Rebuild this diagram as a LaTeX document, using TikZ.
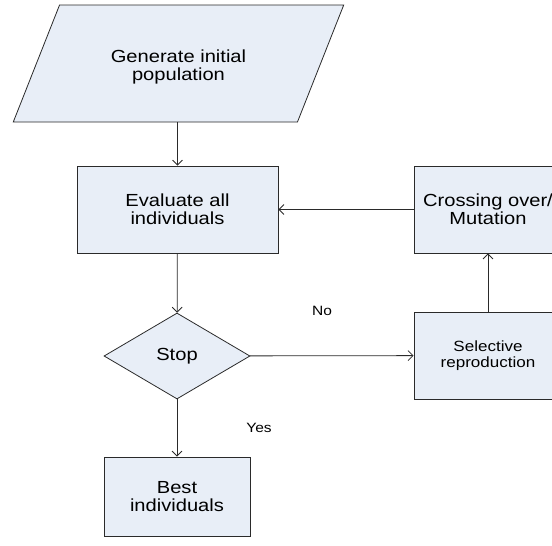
\documentclass[tikz,border=0pt]{standalone}
\usepackage{fontspec}
\setmainfont{Liberation Sans}[FakeStretch=1.15]
\usepackage{tikz}
\usetikzlibrary{arrows.meta,positioning,shapes.geometric}
\definecolor{azulclaro}{HTML}{E8EEF7}
\definecolor{trazo}{HTML}{2A2A2A}

\begin{document}
\begin{tikzpicture}[x=1pt,y=-1pt,line width=0.8pt,
  every node/.style={font=\fontsize{17.5}{18}\selectfont,align=center,text=black},
  caja/.style={draw=trazo,fill=azulclaro,inner sep=0pt},
  flecha/.style={draw=trazo,-{Straight Barb[length=5pt,width=10pt]}}]
        \useasboundingbox (0,0) rectangle (552,546);
        \node[caja,trapezium,trapezium left angle=57.7,trapezium right angle=122.3,
          trapezium stretches=true,minimum width=331pt,minimum height=117pt] (gen) at (178.5,63.5) {\rule{0pt}{20pt}Generate initial\\population};
        \node[caja,minimum width=201pt,minimum height=87pt] (eval) at (177.5,209.5) {Evaluate all\\individuals};
        \node[caja,minimum width=148pt,minimum height=87pt] (cross) at (488,209.5) {Crossing over/\\Mutation};
        \node[caja,diamond,minimum width=146pt,minimum height=86pt] (stop) at (177,356) {Stop};
        \node[caja,minimum width=148pt,minimum height=87pt,font=\fontsize{14.8}{16.5}\selectfont] (sel) at (488,355.5) {Selective\\reproduction};
        \node[caja,minimum width=146pt,minimum height=79pt] (best) at (177,496.5) {Best\\individuals};
        \node[font=\fontsize{13.5}{15}\selectfont] (no) at (322,311) {No};
        \node[font=\fontsize{13.5}{15}\selectfont] (yes) at (259,428) {Yes};
        \draw[flecha] (gen.south -| eval) -- (eval);
        \draw[flecha] (eval) -- (stop);
        \draw[flecha] (stop) -- (sel);
        \draw[flecha] (sel) -- (cross);
        \draw[flecha] (cross) -- (eval);
        \draw[flecha] (stop) -- (best);
      \end{tikzpicture}
\end{document}
